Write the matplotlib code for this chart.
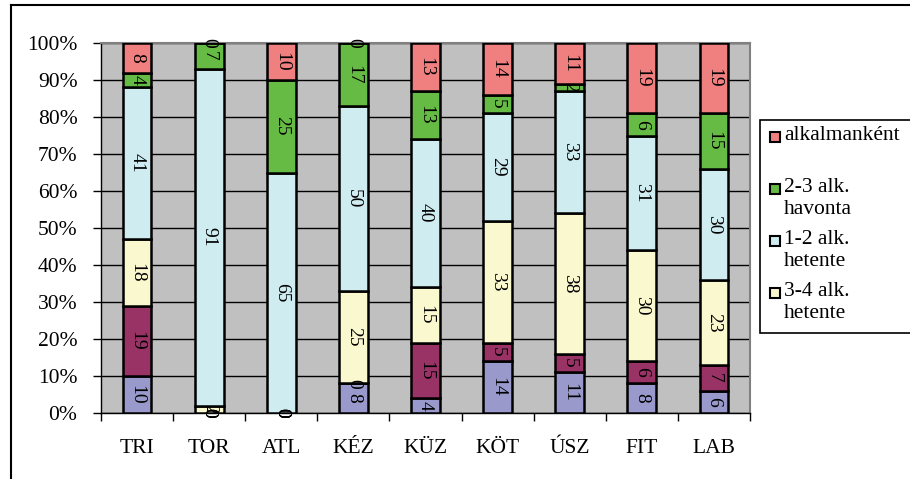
import numpy as np
import matplotlib.pyplot as plt
from matplotlib.patches import Rectangle
from matplotlib.lines import Line2D

plt.rcParams['font.family'] = 'Liberation Serif'

# sports and answer shares (%), stacked bottom to top
sports = ['TRI', 'TOR', 'ATL', 'KÉZ', 'KÜZ', 'KÖT', 'ÚSZ', 'FIT', 'LAB']
s1 = [10, 0, 0, 8, 4, 14, 11, 8, 6]
s2 = [19, 0, 0, 0, 15, 5, 5, 6, 7]
het34 = [18, 2, 0, 25, 15, 33, 38, 30, 23]
het12 = [41, 91, 65, 50, 40, 29, 33, 31, 30]
hav23 = [4, 7, 25, 17, 13, 5, 2, 6, 15]
alkalm = [8, 0, 10, 0, 13, 14, 11, 19, 19]

series = [s1, s2, het34, het12, hav23, alkalm]
colors = ['#9999CC', '#993366', '#FAF8CE', '#CFECF1', '#66BB44', '#F08080']

legend_labels = ['alkalmanként', '2-3 alk.\nhavonta', '1-2 alk.\nhetente', '3-4 alk.\nhetente']
legend_colors = ['#F08080', '#66BB44', '#CFECF1', '#FAF8CE']

fig = plt.figure(figsize=(9.10, 4.79), dpi=100)
ax = fig.add_axes([101 / 910, 1 - 413 / 479, 649 / 910, 370 / 479])
ax.set_facecolor('#C0C0C0')

x = np.arange(len(sports))
bottom = np.zeros(len(sports))
for vals, col in zip(series, colors):
    vals = np.array(vals, dtype=float)
    ax.bar(x, vals, 0.4, bottom=bottom, color=col, edgecolor='black', linewidth=1.8, zorder=3)
    for xi, b, v in zip(x, bottom, vals):
        ax.text(xi, b + v / 2, f'{v:.0f}', rotation=270, ha='center', va='center',
                fontsize=14, zorder=4)
    bottom += vals

ax.set_xlim(-0.5, len(sports) - 0.5)
ax.set_ylim(0, 100)
ax.set_yticks(np.arange(0, 101, 10))
ax.set_yticklabels([f'{v}%' for v in range(0, 101, 10)], fontsize=15.5)
ax.yaxis.grid(True, color='black', linewidth=1.0, zorder=1)
ax.set_axisbelow(True)

ax.set_xticks(x)
ax.set_xticklabels(sports, fontsize=15.5)
ax.set_xticks(np.arange(-0.5, len(sports)), minor=True)
ax.tick_params(axis='x', which='major', length=0, pad=19)
ax.tick_params(axis='x', which='minor', length=6, width=1, direction='out')
ax.tick_params(axis='y', length=6, width=1, direction='out', pad=11)

for side in ['top', 'right']:
    ax.spines[side].set_color('#808080')
    ax.spines[side].set_linewidth(1.5)
for side in ['left', 'bottom']:
    ax.spines[side].set_color('black')
    ax.spines[side].set_linewidth(1.0)

# outer frame of the chart area
W, H = 910, 479
fig.add_artist(Line2D([11 / W, 1], [1 - 5 / H, 1 - 5 / H], color='black', linewidth=1.5))
fig.add_artist(Line2D([11 / W, 11 / W], [0, 1 - 5 / H], color='black', linewidth=1.5))

# legend box, runs off the right edge
fig.add_artist(Rectangle((760 / W, 1 - 333 / H), 200 / W, 213 / H, facecolor='white',
                         edgecolor='black', linewidth=1.2, transform=fig.transFigure))
for i, (lab, col) in enumerate(zip(legend_labels, legend_colors)):
    y = 137 + i * 52
    fig.add_artist(Rectangle((770 / W, 1 - (y + 5) / H), 10 / W, 10 / H, facecolor=col,
                             edgecolor='black', linewidth=1.5, transform=fig.transFigure))
    fig.text(784 / W, 1 - (y - 11) / H, lab, ha='left', va='top', fontsize=15.5,
             linespacing=1.25)

fig.savefig('out.png', dpi=100)
